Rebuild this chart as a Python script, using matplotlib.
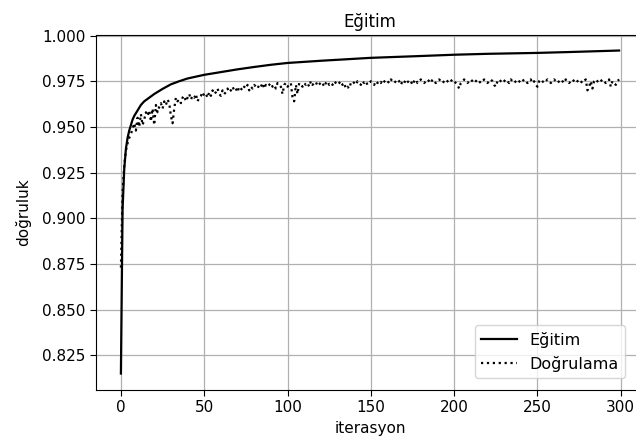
import matplotlib
matplotlib.use('Agg')
import matplotlib.pyplot as plt

# training accuracy, read at selected iterations (smooth curve)
train_iter = [0, 1, 2, 3, 4, 5, 6, 7, 8, 10, 12, 14, 17, 20, 25, 30, 35, 40,
              50, 60, 70, 80, 90, 100, 120, 150, 180, 200, 220, 250, 270, 299]
train_acc = [0.815, 0.905, 0.927, 0.938, 0.944, 0.948, 0.951, 0.954, 0.956,
             0.959, 0.962, 0.964, 0.966, 0.968, 0.9708, 0.9733, 0.9750, 0.9765,
             0.9785, 0.9800, 0.9815, 0.9828, 0.9840, 0.9850, 0.9862, 0.9878,
             0.9888, 0.9895, 0.9900, 0.9905, 0.9910, 0.9918]

# validation accuracy, one value per iteration
val_acc = [
    0.873, 0.914, 0.929, 0.937, 0.941, 0.944, 0.946, 0.949, 0.952, 0.948,
    0.955, 0.950, 0.957, 0.951, 0.954, 0.958, 0.956, 0.959, 0.953, 0.960,
    0.951, 0.962, 0.958, 0.961, 0.963, 0.960, 0.964, 0.962, 0.965, 0.963,
    0.956, 0.952, 0.960, 0.966, 0.964, 0.965, 0.963, 0.966, 0.967, 0.964,
    0.966, 0.968, 0.965, 0.967, 0.966, 0.968, 0.964, 0.966, 0.967, 0.969,
    0.967, 0.968, 0.966, 0.969, 0.967, 0.970, 0.968, 0.969, 0.971, 0.968,
    0.967, 0.970, 0.968, 0.969, 0.971, 0.969, 0.970, 0.972, 0.970, 0.971,
    0.969, 0.972, 0.971, 0.970, 0.972, 0.971, 0.973, 0.970, 0.972, 0.971,
    0.973, 0.972, 0.971, 0.973, 0.972, 0.974, 0.971, 0.973, 0.972, 0.973,
    0.974, 0.972, 0.973, 0.971, 0.974, 0.973, 0.972, 0.968, 0.973, 0.974,
    0.972, 0.973, 0.974, 0.966, 0.964, 0.973, 0.968, 0.974, 0.973, 0.972,
    0.974, 0.973, 0.974, 0.972, 0.975, 0.973, 0.974, 0.973, 0.975, 0.974,
    0.973, 0.974, 0.972, 0.974, 0.975, 0.973, 0.974, 0.973, 0.975, 0.974,
    0.973, 0.974, 0.975, 0.973, 0.974, 0.971, 0.972, 0.971, 0.974, 0.975,
    0.974, 0.973, 0.975, 0.974, 0.973, 0.975, 0.974, 0.975, 0.973, 0.974,
    0.975, 0.974, 0.973, 0.975, 0.974, 0.975, 0.974, 0.976, 0.975, 0.974,
    0.975, 0.974, 0.976, 0.975, 0.974, 0.975, 0.976, 0.975, 0.973, 0.975,
    0.974, 0.976, 0.975, 0.974, 0.975, 0.973, 0.975, 0.976, 0.974, 0.975,
    0.976, 0.975, 0.974, 0.975, 0.976, 0.975, 0.974, 0.976, 0.975, 0.974,
    0.975, 0.976, 0.975, 0.974, 0.975, 0.976, 0.975, 0.974, 0.975, 0.976,
    0.975, 0.974, 0.973, 0.971, 0.974, 0.975, 0.976, 0.975, 0.974, 0.975,
    0.976, 0.975, 0.974, 0.975, 0.976, 0.975, 0.974, 0.975, 0.976, 0.975,
    0.974, 0.975, 0.976, 0.975, 0.973, 0.972, 0.975, 0.976, 0.975, 0.974,
    0.975, 0.976, 0.975, 0.974, 0.976, 0.975, 0.974, 0.975, 0.976, 0.975,
    0.974, 0.975, 0.976, 0.975, 0.974, 0.975, 0.976, 0.974, 0.975, 0.973,
    0.972, 0.975, 0.976, 0.975, 0.974, 0.975, 0.976, 0.975, 0.974, 0.975,
    0.976, 0.975, 0.974, 0.975, 0.976, 0.975, 0.974, 0.976, 0.975, 0.974,
    0.975, 0.976, 0.975, 0.974, 0.975, 0.976, 0.975, 0.974, 0.975, 0.976,
    0.970, 0.972, 0.975, 0.971, 0.975, 0.976, 0.975, 0.974, 0.975, 0.976,
    0.975, 0.974, 0.975, 0.976, 0.972, 0.975, 0.974, 0.973, 0.975, 0.976,
]
val_iter = list(range(len(val_acc)))

fig = plt.figure(figsize=(6.36, 4.45), dpi=100)
# axes run past the right edge (reference image is cropped there)
ax = fig.add_axes([96 / 636, 55 / 445, 548 / 636, 355 / 445])

ax.plot(train_iter, train_acc, 'k-', linewidth=1.6, label='Eğitim')
ax.plot(val_iter, val_acc, 'k:', linewidth=1.6, label='Doğrulama')

ax.set_xlim(-14.95, 313.95)
ax.set_ylim(0.806, 1.0003)
ax.set_xticks([0, 50, 100, 150, 200, 250, 300])
ax.set_yticks([0.825, 0.850, 0.875, 0.900, 0.925, 0.950, 0.975, 1.000])
ax.set_title('Eğitim', fontsize=12)
ax.set_xlabel('iterasyon', fontsize=11)
ax.set_ylabel('doğruluk', fontsize=11, labelpad=8)
ax.tick_params(labelsize=11, length=4)
ax.grid(True, color='#b0b0b0', linewidth=0.9)
ax.legend(loc='lower right', bbox_to_anchor=(633 / 636, 59 / 445),
          bbox_transform=fig.transFigure, fontsize=11.5, handlelength=2.2)

fig.savefig('out.png', dpi=100)
plt.close(fig)
